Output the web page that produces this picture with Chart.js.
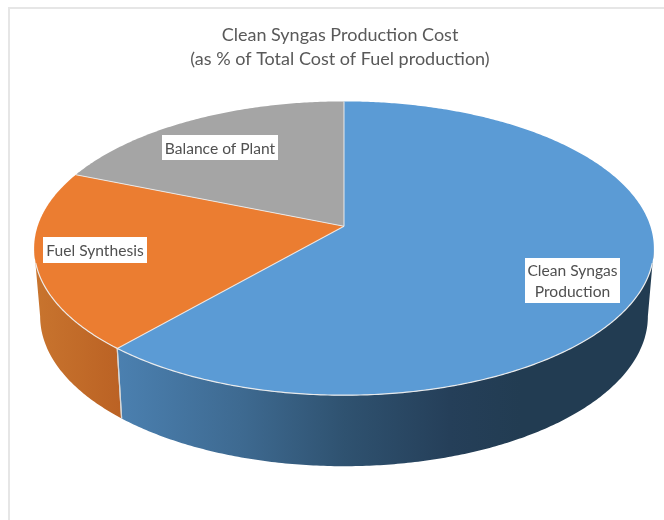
<!DOCTYPE html>
<html>
<head>
<meta charset="utf-8">
<title>Clean Syngas Production Cost</title>
<script src="https://cdn.jsdelivr.net/npm/chart.js@4"></script>
<style>
  html, body { margin: 0; background: #fff; }
  #frame { position: absolute; left: 8px; top: 7px; right: 0; bottom: 0; border-left: 2px solid #e6e6e6; border-top: 2px solid #e6e6e6; }
  canvas { position: absolute; left: 0; top: 0; }
</style>
</head>
<body>
<div id="frame"></div>
<canvas id="chart" width="664" height="520"></canvas>
<script>
// Share of total fuel production cost, percent.
const categories = ['Clean Syngas Production', 'Fuel Synthesis', 'Balance of Plant'];
const costShares = [61.4, 19.8, 18.8];
const titleLines = ['Clean Syngas Production Cost', '(as % of Total Cost of Fuel production)'];
const labelLines = [['Clean Syngas', 'Production'], ['Fuel Synthesis'], ['Balance of Plant']];
const topColors = ['#5b9bd5', '#eb7d31', '#a5a5a5'];
const wallStops = [
  [[117, '#4b80b0'], [240, '#3e6a91'], [344, '#2f5270'], [450, '#253f59'], [520, '#223c52']],
  [[36, '#c8742e'], [120, '#bb6224']],
  [[0, '#7c7c7c'], [664, '#7c7c7c']]
];
const labelBoxes = [
  { x: 525, y: 258, w: 95, h: 45 },
  { x: 43, y: 237, w: 104, h: 26 },
  { x: 162, y: 135, w: 116, h: 25 }
];

// Tilted-disc projection, expressed relative to the pie radius the library computes.
const VIEW = { shiftX: 4, spanX: 2.033, spanY: 0.953, perspective: 0.1497 };
const BASE = { scaleX: 304 / 310, scaleY: 150 / 147, rimMidY: 248, baseMidY: 316, axisX: 344 };

function rimPoint(el, angle) {
  const u = Math.cos(angle), v = Math.sin(angle);
  const k = 1 - VIEW.perspective * v;
  return {
    x: el.x + VIEW.shiftX + VIEW.spanX * el.outerRadius * u / k,
    y: el.y + VIEW.spanY * el.outerRadius * v / k
  };
}
function basePoint(el, angle) {
  const p = rimPoint(el, angle);
  return {
    x: BASE.axisX + BASE.scaleX * (p.x - BASE.axisX),
    y: BASE.baseMidY + BASE.scaleY * (p.y - BASE.rimMidY)
  };
}
function sweep(a0, a1, fn, visit) {
  const n = Math.max(2, Math.ceil(Math.abs(a1 - a0) / 0.01));
  for (let i = 0; i <= n; i++) visit(fn(a0 + (a1 - a0) * i / n));
}

const tiltedPie = {
  id: 'tiltedPie',
  beforeDatasetDraw(chart, args) {
    const ctx = chart.ctx;
    const arcs = args.meta.data;
    const edge = Math.asin(VIEW.perspective);
    const frontFrom = edge, frontTo = Math.PI - edge;

    ctx.save();

    // Side wall of the disc, only where it faces the viewer.
    arcs.forEach((el, i) => {
      const a0 = Math.max(el.startAngle, frontFrom);
      const a1 = Math.min(el.endAngle, frontTo);
      if (a1 <= a0) return;
      const stops = wallStops[i];
      const first = stops[0][0];
      const span = stops[stops.length - 1][0] - first;
      const grad = ctx.createLinearGradient(first, 0, first + span, 0);
      stops.forEach(s => grad.addColorStop((s[0] - first) / span, s[1]));
      ctx.beginPath();
      sweep(a0, a1, a => rimPoint(el, a), p => ctx.lineTo(p.x, p.y));
      sweep(a1, a0, a => basePoint(el, a), p => ctx.lineTo(p.x, p.y));
      ctx.closePath();
      ctx.fillStyle = grad;
      ctx.fill();
    });

    // Seams on the wall between neighbouring slices.
    arcs.forEach(el => {
      [el.startAngle, el.endAngle].forEach(a => {
        if (a <= frontFrom || a >= frontTo) return;
        const p = rimPoint(el, a), q = basePoint(el, a);
        ctx.beginPath();
        ctx.moveTo(p.x, p.y);
        ctx.lineTo(q.x, q.y);
        ctx.strokeStyle = '#d6d6d6';
        ctx.lineWidth = 1.2;
        ctx.stroke();
      });
    });

    // Top face of every slice.
    arcs.forEach((el, i) => {
      ctx.beginPath();
      ctx.moveTo(el.x + VIEW.shiftX, el.y);
      sweep(el.startAngle, el.endAngle, a => rimPoint(el, a), p => ctx.lineTo(p.x, p.y));
      ctx.closePath();
      ctx.fillStyle = topColors[i];
      ctx.fill();
    });

    // Light separators between slices and along the front rim.
    arcs.forEach(el => {
      const p = rimPoint(el, el.startAngle);
      ctx.beginPath();
      ctx.moveTo(el.x + VIEW.shiftX, el.y);
      ctx.lineTo(p.x, p.y);
      ctx.strokeStyle = 'rgba(240,240,240,0.85)';
      ctx.lineWidth = 1.1;
      ctx.stroke();
    });
    const rimEl = arcs[0];
    ctx.beginPath();
    sweep(frontFrom + 0.1, frontTo - 0.1, a => rimPoint(rimEl, a), p => ctx.lineTo(p.x, p.y));
    ctx.strokeStyle = 'rgba(238,238,238,0.95)';
    ctx.lineWidth = 1.2;
    ctx.stroke();

    // Category labels on white boxes.
    ctx.font = '15.6px Lato, sans-serif';
    ctx.textAlign = 'center';
    ctx.textBaseline = 'middle';
    labelBoxes.forEach((b, i) => {
      ctx.fillStyle = '#ffffff';
      ctx.fillRect(b.x, b.y, b.w, b.h);
      ctx.fillStyle = '#505050';
      const lines = labelLines[i];
      const lh = 21;
      lines.forEach((t, j) => {
        ctx.fillText(t, b.x + b.w / 2, b.y + b.h / 2 + 1 + (j - (lines.length - 1) / 2) * lh);
      });
    });

    ctx.restore();
    return false;
  }
};

new Chart(document.getElementById('chart'), {
  type: 'pie',
  data: {
    labels: categories,
    datasets: [{ data: costShares, backgroundColor: topColors, borderWidth: 0 }]
  },
  plugins: [tiltedPie],
  options: {
    responsive: false,
    animation: false,
    layout: { padding: { left: 24, right: 8, bottom: 143 } },
    plugins: {
      legend: { display: false },
      tooltip: { enabled: false },
      title: {
        display: true,
        text: titleLines,
        color: '#595959',
        font: { family: 'Lato, sans-serif', size: 18, weight: 'normal', lineHeight: 1.35 },
        padding: { top: 23, bottom: 4 }
      }
    }
  }
});
</script>
</body>
</html>
